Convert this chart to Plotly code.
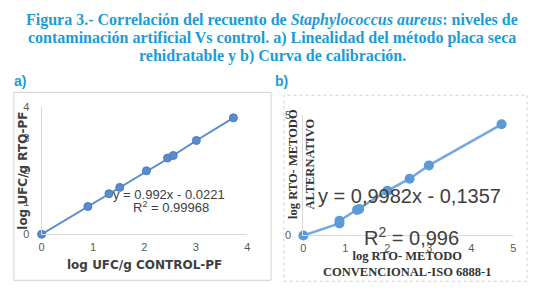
import plotly.graph_objects as go

W, H = 544, 293

# ---------------- data ----------------
a_x = [0, 0.90, 1.31, 1.52, 2.04, 2.45, 2.56, 3.01, 3.73]
a_y = [0, 0.87, 1.27, 1.47, 1.99, 2.39, 2.47, 2.94, 3.65]
a_ticks = [0, 1, 2, 3, 4]

b_x = [0, 0.86, 0.86, 1.28, 1.33, 2.00, 2.53, 2.99, 4.72]
b_y = [0, 0.50, 0.61, 1.06, 1.10, 1.85, 2.35, 2.90, 4.60]
b_xticks = [0, 1, 2, 3, 4, 5]
b_yticks = [0, 5]

title_lines = [
    "Figura 3.- Correlación del recuento de <i>Staphylococcus aureus</i>: niveles de",
    "contaminación artificial Vs control. a) Linealidad del método placa seca",
    "rehidratable y b) Curva de calibración.",
]
eq_a = ["y = 0.992x - 0.0221", "R<sup>2</sup> = 0.99968"]
eq_b = ["y = 0,9982x - 0,1357", "R<sup>2</sup> = 0,996"]


def px(x):
    return x / W


def py(y):
    return 1 - y / H


BLUE_T = "#1b9cd8"
GRAY_AX = "#d9d9d9"
TXT = "#404040"

fig = go.Figure()
fig.add_trace(go.Scatter(
    x=a_x, y=a_y, mode="lines+markers", xaxis="x", yaxis="y",
    line=dict(color="#5a8ccc", width=2),
    marker=dict(color="#5a8ccc", size=8, line=dict(color="#4a7cc0", width=1)),
    showlegend=False, cliponaxis=False))
fig.add_trace(go.Scatter(
    x=b_x, y=b_y, mode="lines+markers", xaxis="x2", yaxis="y2",
    line=dict(color="#74a8de", width=2.5),
    marker=dict(color="#5b9bd5", size=10),
    showlegend=False, cliponaxis=False))

tickfont = dict(family="Liberation Sans, Arial, sans-serif", size=11, color="#595959")

fig.update_layout(
    width=W, height=H,
    margin=dict(l=0, r=0, t=0, b=0),
    paper_bgcolor="white", plot_bgcolor="white",
    xaxis=dict(domain=[px(39), px(247)], range=[0, 4], anchor="y",
               tickvals=a_ticks, showgrid=False, zeroline=False,
               showline=True, linecolor=GRAY_AX, linewidth=1,
               ticks="", tickfont=tickfont, ticklabelstandoff=3),
    yaxis=dict(domain=[py(238), py(105)], range=[0, 4], anchor="x",
               tickvals=a_ticks, showgrid=False, zeroline=False,
               showline=True, linecolor=GRAY_AX, linewidth=1,
               ticks="", tickfont=tickfont, ticklabelstandoff=9),
    xaxis2=dict(domain=[px(303.7), px(516)], range=[0, 5], anchor="y2",
                tickvals=b_xticks, showgrid=False, zeroline=False,
                showline=True, linecolor=GRAY_AX, linewidth=1,
                ticks="", tickfont=tickfont, ticklabelstandoff=2),
    yaxis2=dict(domain=[py(239.3), py(113.3)], range=[0, 5], anchor="x2",
                tickvals=b_yticks, showgrid=False, zeroline=False,
                showline=True, linecolor=GRAY_AX, linewidth=1,
                ticks="", tickfont=tickfont, ticklabelstandoff=9),
)

shapes = [
    dict(type="rect", xref="paper", yref="paper", x0=px(11), x1=px(271),
         y0=py(286), y1=py(90), line=dict(color="#d0d0d0", width=1)),
    dict(type="rect", xref="paper", yref="paper", x0=px(284), x1=px(530),
         y0=py(287), y1=py(93), line=dict(color="#d0d0d0", width=1, dash="dot")),
]
fig.update_layout(shapes=shapes)

ann = []
# title
for i, t in enumerate(title_lines):
    ann.append(dict(text="<b>" + t + "</b>", x=0.5, y=py(15 + 18.5 * i), xref="paper", yref="paper",
                    showarrow=False, xanchor="center", yanchor="middle",
                    font=dict(family="Liberation Serif, serif", size=16, color=BLUE_T)))
# panel labels
ann.append(dict(text="<b>a)</b>", x=px(9), y=py(78), xref="paper", yref="paper",
                showarrow=False, xanchor="left", yanchor="middle",
                font=dict(family="Liberation Sans, sans-serif", size=14, color=BLUE_T)))
ann.append(dict(text="<b>b)</b>", x=px(273), y=py(78), xref="paper", yref="paper",
                showarrow=False, xanchor="left", yanchor="middle",
                font=dict(family="Liberation Sans, sans-serif", size=14, color=BLUE_T)))

# panel a axis titles
ann.append(dict(text="<b>log UFC/g CONTROL-PF</b>", x=px(143), y=py(270),
                xref="paper", yref="paper", showarrow=False,
                xanchor="center", yanchor="middle",
                font=dict(family="DejaVu Sans, sans-serif", size=12, color=TXT)))
ann.append(dict(text="<b>log UFC/g RTQ-PF</b>", x=px(20), y=py(172), textangle=-90,
                xref="paper", yref="paper", showarrow=False,
                xanchor="center", yanchor="middle",
                font=dict(family="DejaVu Sans, sans-serif", size=12, color=TXT)))
# panel a equation
ann.append(dict(text=eq_a[0], x=px(168), y=py(197), xref="paper", yref="paper",
                showarrow=False, xanchor="center", yanchor="middle",
                font=dict(family="Liberation Sans, Arial, sans-serif", size=13, color=TXT)))
ann.append(dict(text=eq_a[1], x=px(170), y=py(210), xref="paper", yref="paper",
                showarrow=False, xanchor="center", yanchor="middle",
                font=dict(family="Liberation Sans, Arial, sans-serif", size=13, color=TXT)))

# panel b axis titles
ann.append(dict(text="<b>log RTO- METODO<br>CONVENCIONAL-ISO 6888-1</b>", x=px(409), y=py(269.5),
                xref="paper", yref="paper", showarrow=False,
                xanchor="center", yanchor="middle",
                font=dict(family="Liberation Serif, serif", size=12.5, color="#333333")))
ann.append(dict(text="<b>log RTO- METODO<br>ALTERNATIVO</b>", x=px(302), y=py(165), textangle=-90,
                xref="paper", yref="paper", showarrow=False,
                xanchor="center", yanchor="middle",
                font=dict(family="Liberation Serif, serif", size=12.5, color="#333333")))
# panel b equation
ann.append(dict(text=eq_b[0], x=px(411), y=py(198), xref="paper", yref="paper",
                showarrow=False, xanchor="center", yanchor="middle",
                font=dict(family="Liberation Sans, Arial, sans-serif", size=20, color=TXT)))
ann.append(dict(text=eq_b[1], x=px(413), y=py(240), xref="paper", yref="paper",
                showarrow=False, xanchor="center", yanchor="middle",
                font=dict(family="Liberation Sans, Arial, sans-serif", size=20, color=TXT)))

fig.update_layout(annotations=ann)
fig.write_html("out.html",
               config={"displayModeBar": False},
               post_script="document.body.style.margin='0';document.body.style.overflow='hidden';")
